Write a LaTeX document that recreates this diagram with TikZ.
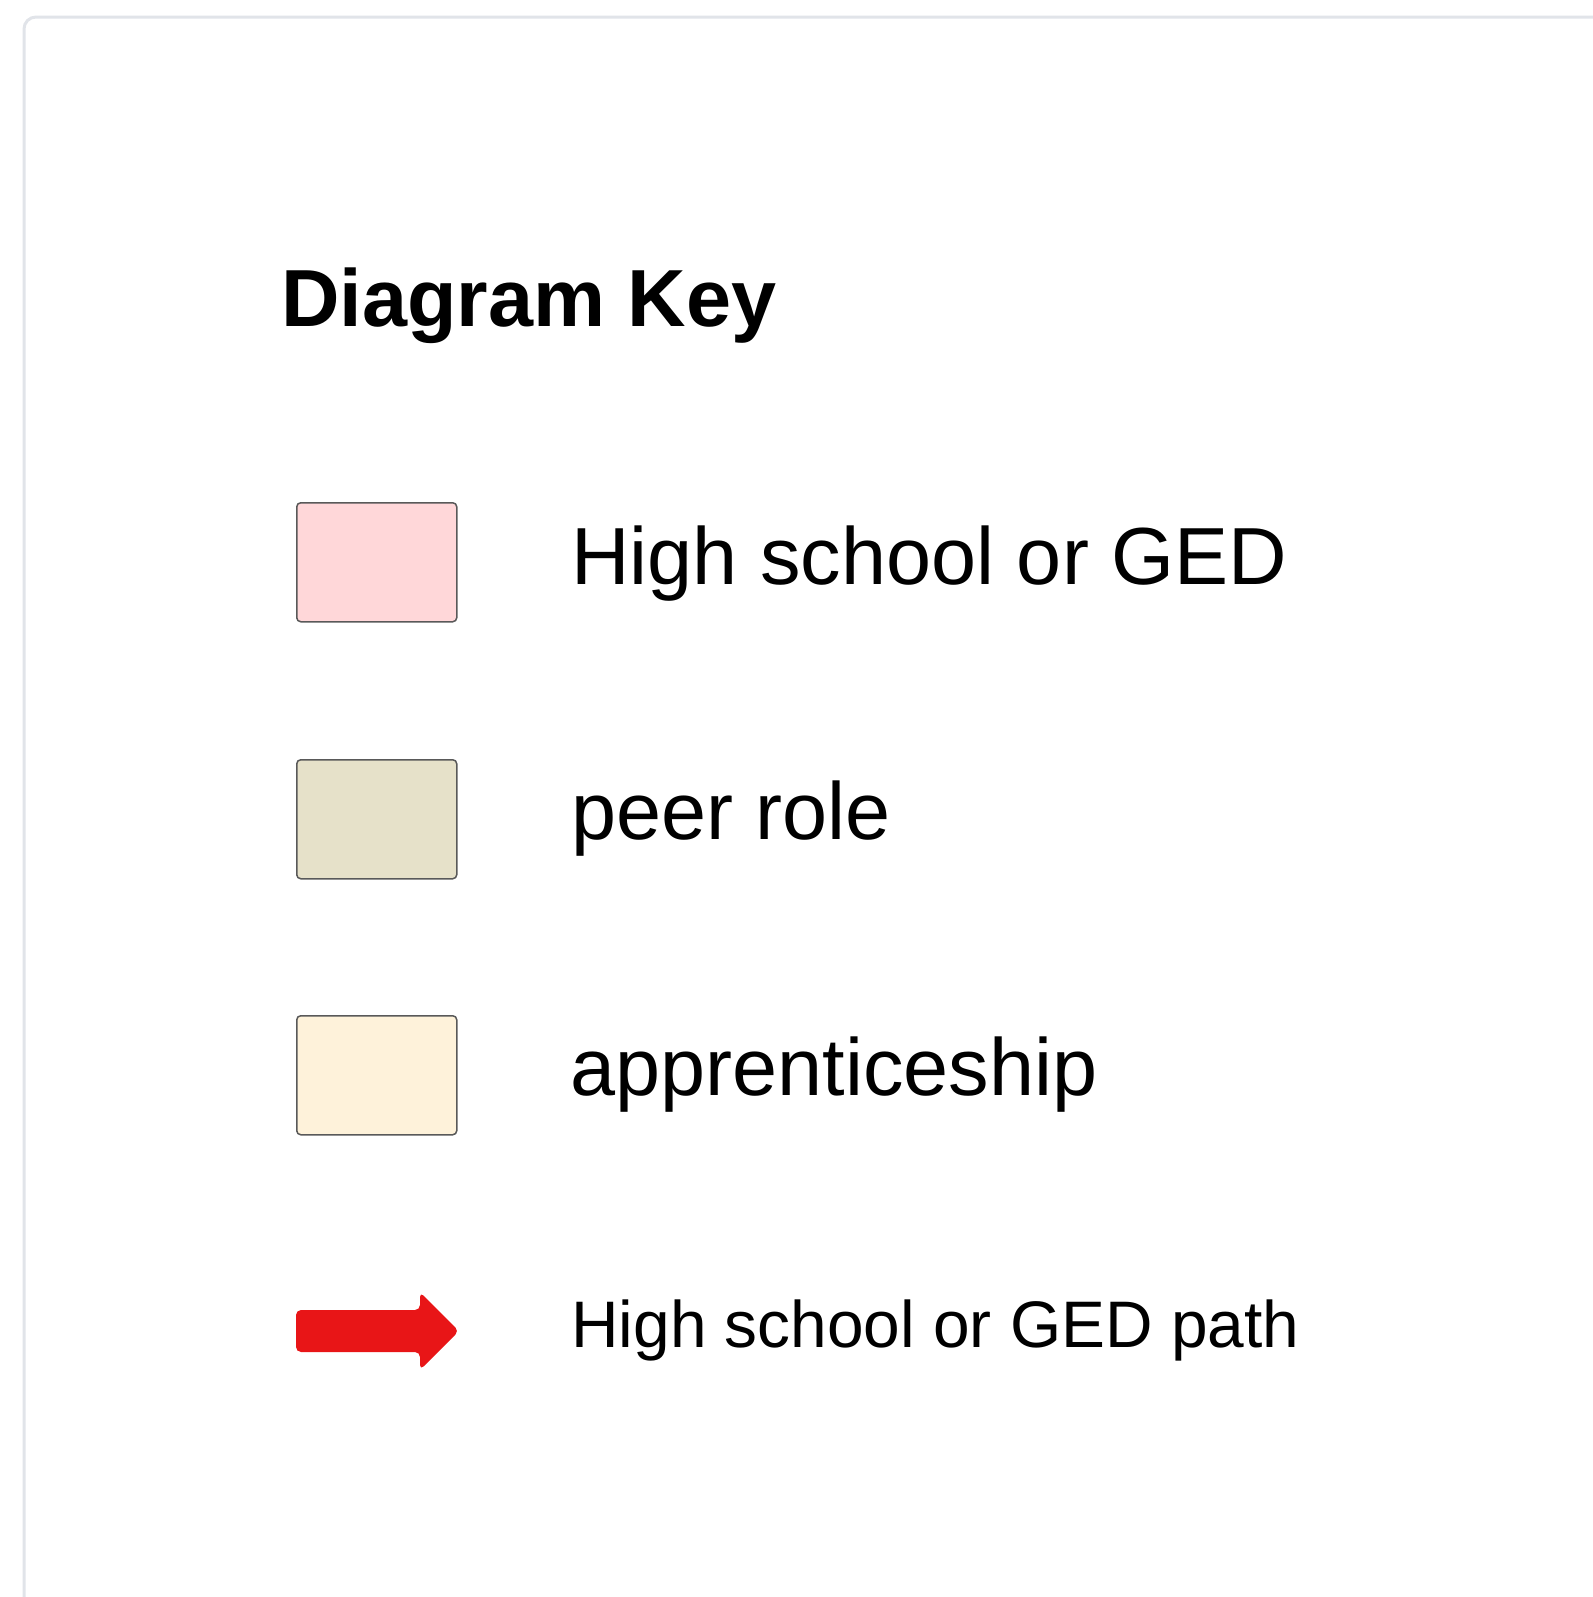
\documentclass[tikz,border=0pt]{standalone}
\usepackage{fontspec}
\setmainfont{Liberation Sans}
\definecolor{keyborder}{HTML}{E1E4E9}
\definecolor{hsfill}{HTML}{FFD7D9}
\definecolor{peerfill}{HTML}{E6E1C9}
\definecolor{appfill}{HTML}{FEF2DA}
\definecolor{pathred}{HTML}{E81517}
\tikzset{
  swatch/.style={draw=black!65, line width=0.75pt, rounded corners=2pt,
    minimum width=80pt, minimum height=59.5pt, inner sep=0pt, anchor=north west},
  keylabel/.style={anchor=base west, inner sep=0pt, font=\fontsize{40.5}{48}\selectfont},
}
\begin{document}
\begin{tikzpicture}[x=0.5pt, y=-0.5pt]
      \useasboundingbox (0,0) rectangle (1593,1597);
      \clip (0,0) rectangle (1593,1597);
      \draw[keyborder, line width=1.5pt, rounded corners=6pt]
        (24,17) rectangle (1640,1650);
      \node[anchor=base west, inner sep=0pt, font=\bfseries\fontsize{40.5}{48}\selectfont]
        (title) at (281,326) {Diagram Key};
      \node[swatch, fill=hsfill] (hs) at (296,502) {};
      \node[swatch, fill=peerfill] (peer) at (296,759) {};
      \node[swatch, fill=appfill] (app) at (296,1015) {};
      \node[keylabel] (hslabel) at (571,584) {High school or GED};
      \node[keylabel] (peerlabel) at (571,839) {peer role};
      \node[keylabel] (applabel) at (570,1095) {apprenticeship};
      % red path arrow
      \fill[pathred, rounded corners=2.5pt]
        (296,1310) -- (420,1310) -- (420,1292) -- (459,1331)
        -- (420,1370) -- (420,1352) -- (296,1352) -- cycle;
      \node[anchor=base west, inner sep=0pt, font=\fontsize{32.9}{40}\selectfont]
        (pathlabel) at (571,1347) {High school or GED path};
    \end{tikzpicture}
\end{document}
